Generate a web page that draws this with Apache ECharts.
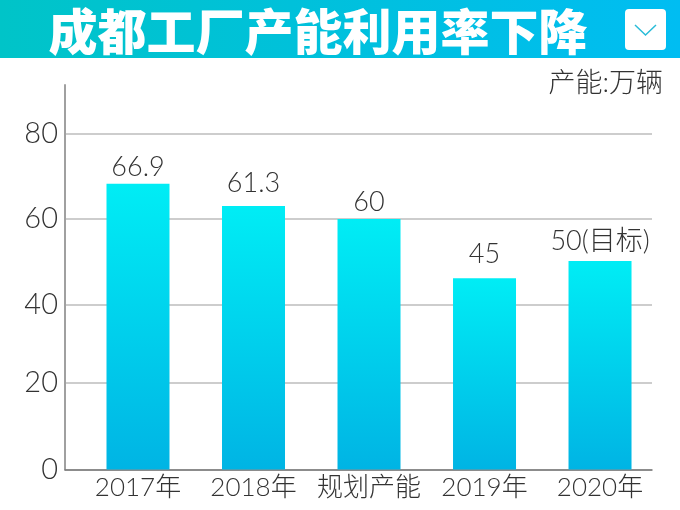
<!DOCTYPE html>
<html>
<head>
<meta charset="utf-8">
<script src="https://cdn.jsdelivr.net/npm/echarts@6/dist/echarts.min.js"></script>
<style>
  html, body { margin: 0; padding: 0; background: #fff; }
  #chart { width: 680px; height: 510px; }
</style>
</head>
<body>
<div id="chart"></div>
<script>
const categories = ['2017年', '2018年', '规划产能', '2019年', '2020年'];
// bar heights as drawn in the picture, the printed labels are not quite to scale
const barValues = [68, 62.7, 59.6, 45.5, 49.6];
const barLabels = ['66.9', '61.3', '60', '45', '50(目标)'];
// the gridlines in the picture are unevenly spaced too
const yTickValues = [0, 20.6, 39.2, 59.6, 80];
const yTickLabels = ['0', '20', '40', '60', '80'];
const labelGaps = [3, 9, 3, 11, 6];

const titleText = '成都工厂产能利用率下降';
const unitText = '产能:万辆';
const thinFont = 'Lato, "Noto Sans CJK SC", sans-serif';
const textColor = '#333';

const myChart = echarts.init(document.getElementById('chart'));
myChart.setOption({
  animation: false,
  backgroundColor: '#fff',
  grid: { left: 65, right: 28, top: 85, bottom: 40.5 },
  xAxis: {
    // value axis so the first bar can sit further from the y axis than the last
    type: 'value',
    min: -0.632,
    max: 4.45,
    splitLine: { show: false },
    axisTick: { show: false, customValues: [0, 1, 2, 3, 4] },
    axisLine: { onZero: false, lineStyle: { color: '#777', width: 1.5 } },
    axisLabel: {
      customValues: [0, 1, 2, 3, 4],
      hideOverlap: false,
      color: textColor,
      fontFamily: thinFont,
      fontWeight: 300,
      fontSize: 26,
      margin: 5,
      formatter(val) {
        return categories[val];
      }
    }
  },
  yAxis: {
    type: 'value',
    min: 0,
    max: 91.5,
    axisTick: { show: false, customValues: yTickValues },
    axisLine: { show: true, onZero: false, lineStyle: { color: '#a0a0a0', width: 2 } },
    splitLine: { lineStyle: { color: '#bdbdbd', width: 1.5 } },
    axisLabel: {
      customValues: yTickValues,
      color: textColor,
      fontFamily: thinFont,
      fontWeight: 300,
      fontSize: 29,
      margin: 7,
      formatter(val) {
        return yTickLabels[yTickValues.indexOf(val)];
      }
    }
  },
  series: [{
    type: 'bar',
    data: barValues.map((v, i) => ({
      value: [i, v],
      label: { distance: labelGaps[i] }
    })),
    barWidth: 63,
    itemStyle: {
      color: new echarts.graphic.LinearGradient(0, 0, 0, 1, [
        { offset: 0, color: '#00edf5' },
        { offset: 1, color: '#00b4e4' }
      ])
    },
    label: {
      show: true,
      position: 'top',
      color: textColor,
      fontFamily: thinFont,
      fontWeight: 300,
      fontSize: 27,
      formatter(p) {
        return barLabels[p.dataIndex];
      }
    }
  }],
  graphic: [
    {
      type: 'rect',
      z: 10,
      shape: { x: 0, y: 0, width: 680, height: 58 },
      style: {
        fill: new echarts.graphic.LinearGradient(0, 0, 1, 0, [
          { offset: 0, color: '#00c4c8' },
          { offset: 1, color: '#00bdf2' }
        ])
      }
    },
    {
      type: 'text',
      z: 11,
      x: 318,
      y: 31,
      style: {
        text: titleText,
        fill: '#fff',
        fontFamily: '"Noto Sans CJK SC", sans-serif',
        fontWeight: 900,
        fontSize: 49,
        align: 'center',
        verticalAlign: 'middle'
      }
    },
    {
      type: 'rect',
      z: 11,
      shape: { x: 625, y: 9, width: 41, height: 41, r: 4 },
      style: { fill: '#fff' }
    },
    {
      type: 'polyline',
      z: 12,
      shape: { points: [[635, 25], [645.5, 35], [656, 25]] },
      style: { stroke: '#29bcd8', lineWidth: 1.5, fill: null }
    },
    {
      type: 'text',
      z: 11,
      x: 663,
      y: 83,
      style: {
        text: unitText,
        fill: textColor,
        fontFamily: thinFont,
        fontWeight: 300,
        fontSize: 27,
        align: 'right',
        verticalAlign: 'middle'
      }
    }
  ]
});
</script>
</body>
</html>
